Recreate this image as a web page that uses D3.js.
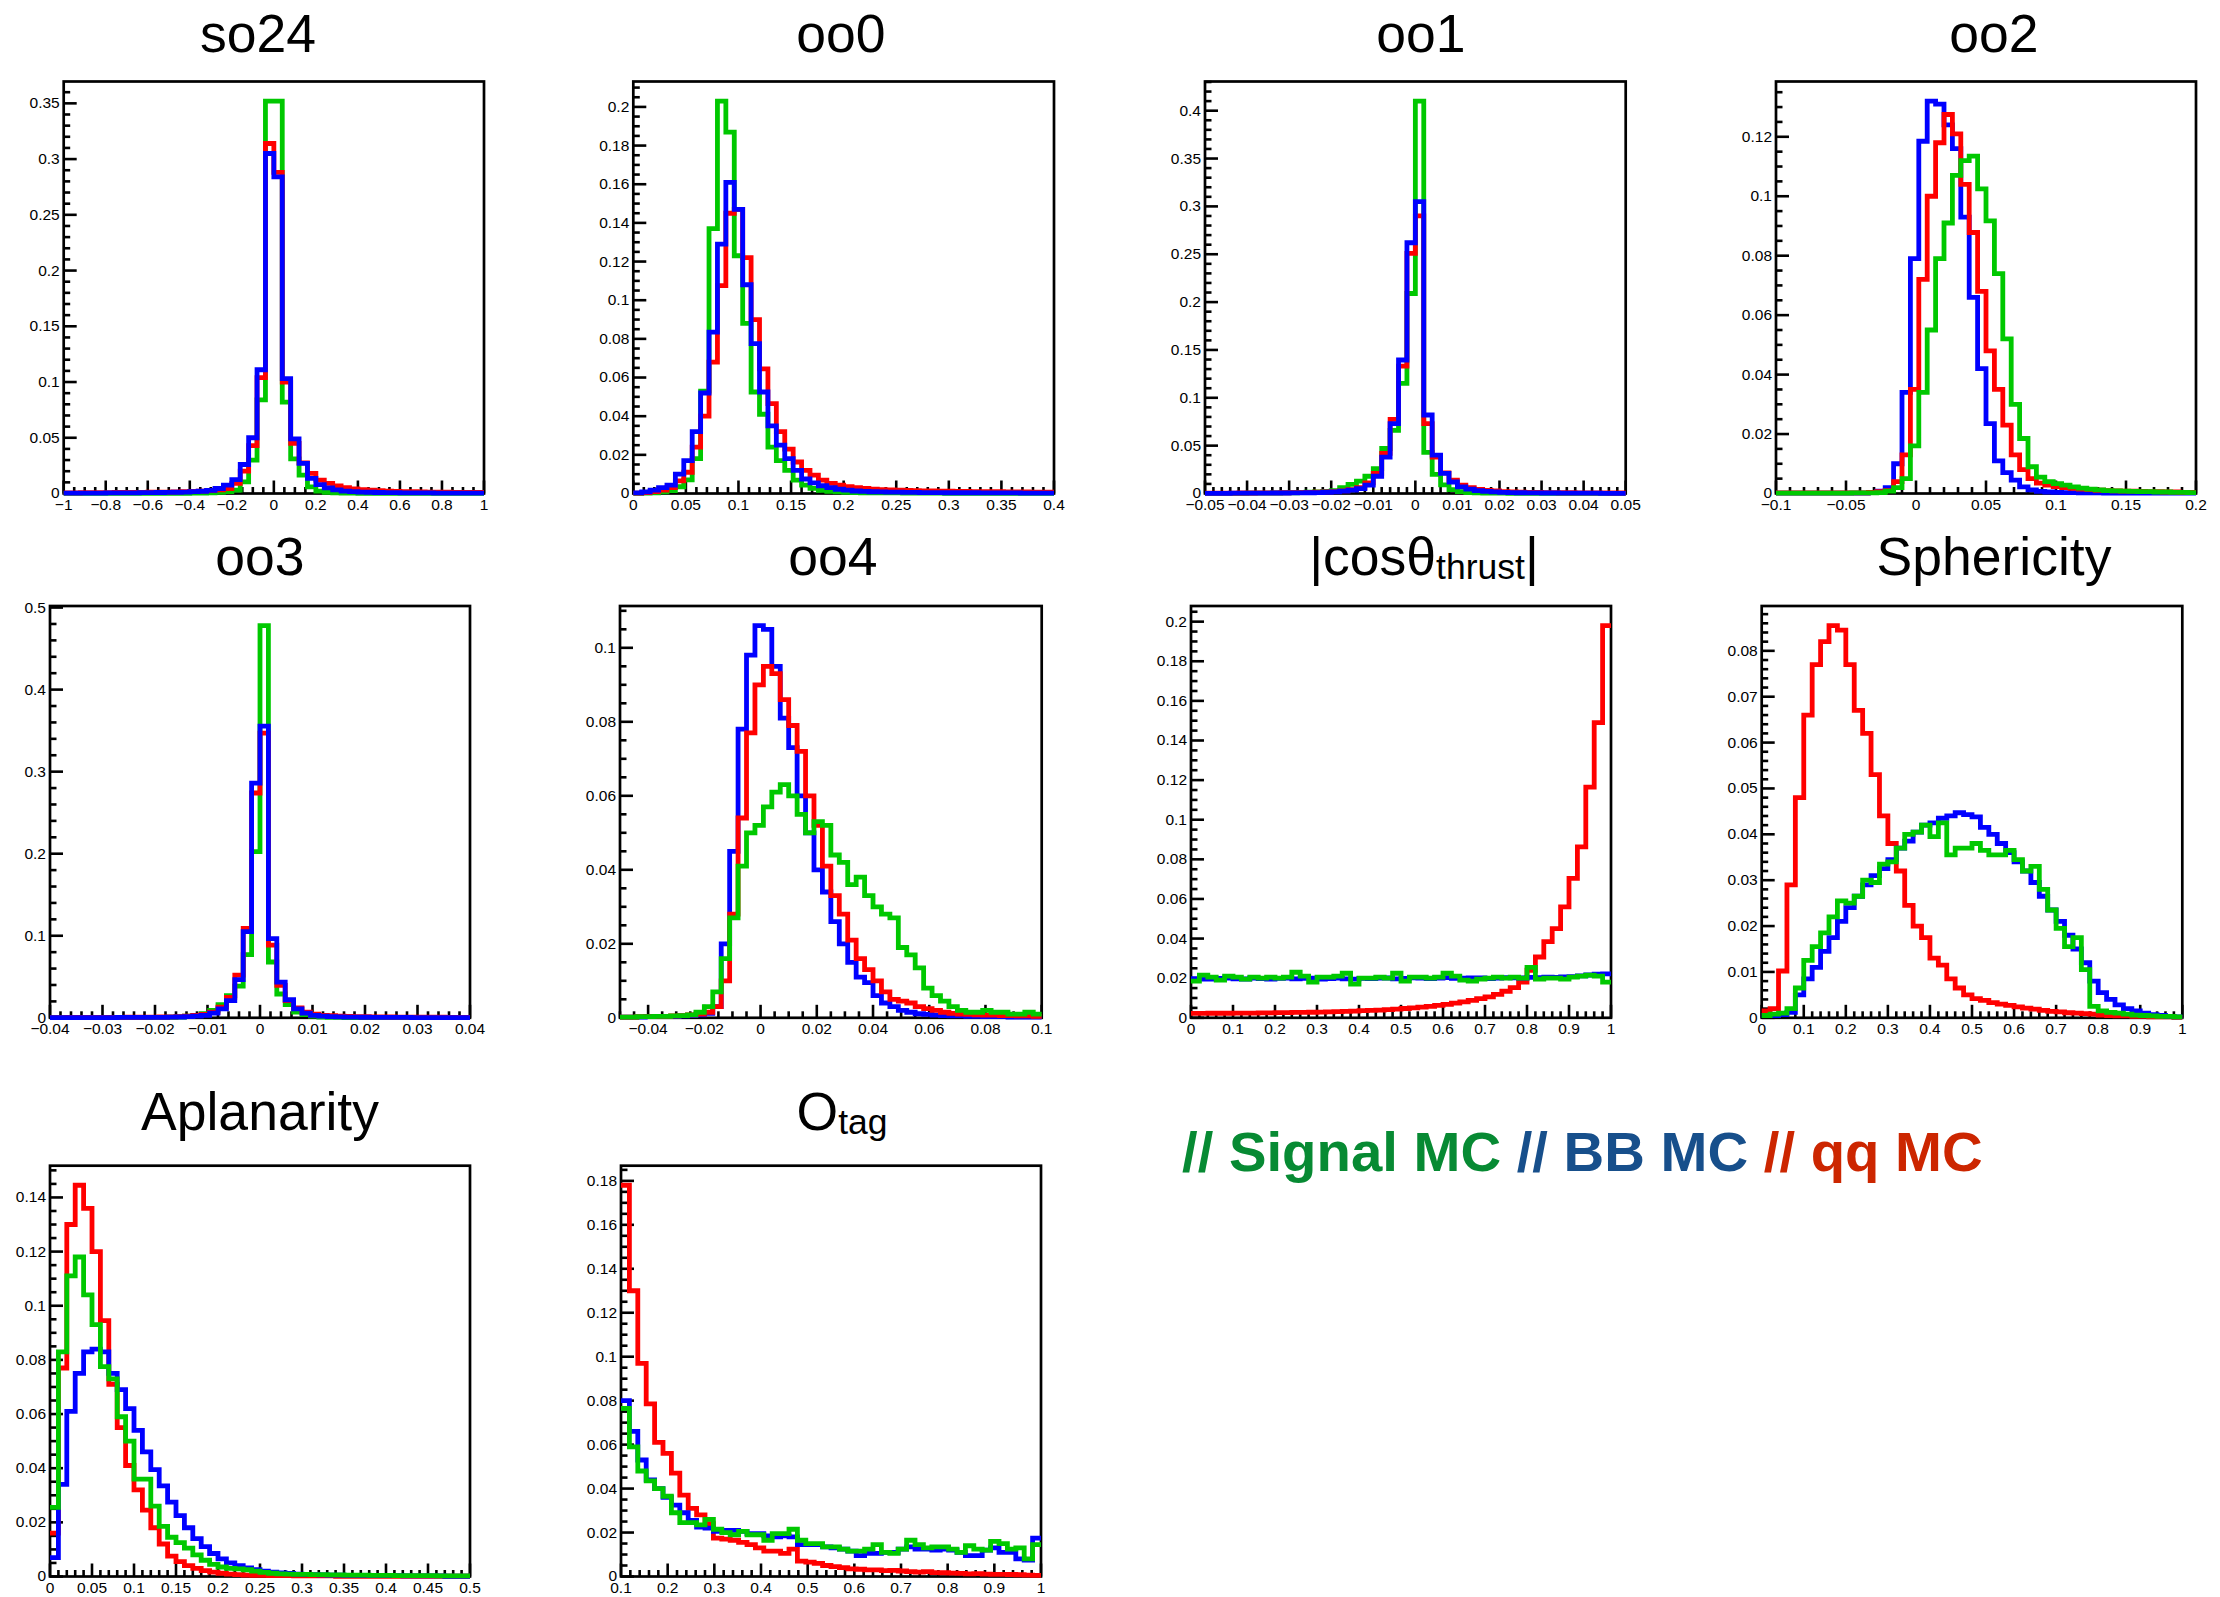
<!DOCTYPE html>
<html>
<head>
<meta charset="utf-8">
<script src="https://cdn.jsdelivr.net/npm/d3@7"></script>
<style>
  html, body { margin: 0; padding: 0; background: #fff; }
  svg { display: block; }
  text { font-family: "Liberation Sans", Arial, Helvetica, sans-serif; }
</style>
</head>
<body>
<svg id="chart" width="2220" height="1597"></svg>
<script>
// ---------- normalised bin contents (50 bins per variable) ----------
const seriesKeys = ["signal", "bb", "qq"];
const seriesLabels = ["Signal MC", "BB MC", "qq MC"];

const so24Range = [-1, 1];
const so24Signal = [0.0001,0.0001,0.0001,0.0001,0.0001,0.0001,0.0001,0.0001,0.0001,0.0001,
  0.0001,0.0001,0.0002,0.0002,0.0002,0.0003,0.0004,0.0006,0.0010,0.0017,
  0.0030,0.0105,0.0300,0.0840,0.3520,0.3520,0.0820,0.0310,0.0165,0.0060,
  0.0022,0.0010,0.0006,0.0004,0.0003,0.0002,0.0002,0.0002,0.0001,0.0001,
  0.0001,0.0001,0.0001,0.0001,0.0001,0.0001,0.0001,0.0001,0.0001,0.0001];
const so24BB = [0.0003,0.0003,0.0004,0.0004,0.0004,0.0005,0.0005,0.0006,0.0006,0.0007,
  0.0008,0.0009,0.0010,0.0011,0.0013,0.0016,0.0020,0.0028,0.0045,0.0075,
  0.0125,0.0260,0.0500,0.1110,0.3050,0.2840,0.1030,0.0490,0.0270,0.0135,
  0.0080,0.0050,0.0032,0.0022,0.0016,0.0013,0.0011,0.0009,0.0008,0.0007,
  0.0006,0.0006,0.0005,0.0005,0.0004,0.0004,0.0004,0.0003,0.0003,0.0003];
const so24QQ = [0.0006,0.0006,0.0007,0.0007,0.0008,0.0008,0.0009,0.0009,0.0010,0.0010,
  0.0011,0.0012,0.0013,0.0014,0.0016,0.0018,0.0021,0.0025,0.0032,0.0045,
  0.0090,0.0200,0.0430,0.1040,0.3140,0.2880,0.1000,0.0450,0.0275,0.0180,
  0.0120,0.0090,0.0068,0.0052,0.0042,0.0035,0.0029,0.0025,0.0022,0.0019,
  0.0017,0.0016,0.0014,0.0013,0.0012,0.0011,0.0010,0.0010,0.0009,0.0009];

const oo0Range = [0, 0.4];
const oo0Signal = [0.0001,0.0002,0.0004,0.0008,0.0015,0.0035,0.0070,0.0180,0.0530,0.1370,
  0.2030,0.1870,0.1230,0.0880,0.0525,0.0410,0.0240,0.0170,0.0120,0.0069,
  0.0043,0.0026,0.0016,0.0011,0.0008,0.0006,0.0005,0.0004,0.0004,0.0003,
  0.0003,0.0003,0.0002,0.0002,0.0002,0.0002,0.0002,0.0001,0.0001,0.0001,
  0.0001,0.0001,0.0001,0.0001,0.0001,0.0001,0.0001,0.0001,0.0001,0.0001];
const oo0BB = [0.0003,0.0008,0.0017,0.0030,0.0043,0.0100,0.0170,0.0320,0.0520,0.0835,
  0.1290,0.1610,0.1470,0.1080,0.0775,0.0525,0.0350,0.0250,0.0180,0.0120,
  0.0075,0.0055,0.0040,0.0030,0.0022,0.0017,0.0013,0.0011,0.0009,0.0008,
  0.0007,0.0007,0.0006,0.0006,0.0005,0.0005,0.0005,0.0004,0.0004,0.0004,
  0.0004,0.0003,0.0003,0.0003,0.0003,0.0003,0.0002,0.0002,0.0002,0.0002];
const oo0QQ = [0.0002,0.0005,0.0010,0.0018,0.0030,0.0065,0.0110,0.0240,0.0400,0.0680,
  0.1075,0.1450,0.1470,0.1220,0.0900,0.0645,0.0465,0.0320,0.0230,0.0163,
  0.0120,0.0095,0.0069,0.0052,0.0043,0.0035,0.0030,0.0026,0.0023,0.0020,
  0.0018,0.0017,0.0016,0.0015,0.0014,0.0013,0.0012,0.0012,0.0011,0.0011,
  0.0010,0.0010,0.0009,0.0009,0.0008,0.0008,0.0008,0.0007,0.0007,0.0007];

const oo1Range = [-0.05, 0.05];
const oo1Signal = [0.0001,0.0001,0.0002,0.0002,0.0002,0.0003,0.0003,0.0004,0.0005,0.0006,
  0.0008,0.0010,0.0013,0.0017,0.0023,0.0030,0.0060,0.0095,0.0130,0.0180,
  0.0260,0.0470,0.0660,0.1150,0.2090,0.4100,0.0430,0.0200,0.0090,0.0040,
  0.0020,0.0010,0.0006,0.0004,0.0003,0.0003,0.0002,0.0002,0.0002,0.0001,
  0.0001,0.0001,0.0001,0.0001,0.0001,0.0001,0.0001,0.0001,0.0001,0.0001];
const oo1BB = [0.0002,0.0002,0.0002,0.0003,0.0003,0.0003,0.0004,0.0004,0.0005,0.0005,
  0.0006,0.0007,0.0008,0.0010,0.0013,0.0018,0.0025,0.0035,0.0050,0.0087,
  0.0180,0.0380,0.0730,0.1395,0.2620,0.3050,0.0820,0.0400,0.0210,0.0120,
  0.0070,0.0045,0.0030,0.0022,0.0016,0.0012,0.0010,0.0008,0.0007,0.0006,
  0.0005,0.0005,0.0004,0.0004,0.0003,0.0003,0.0003,0.0002,0.0002,0.0002];
const oo1QQ = [0.0003,0.0003,0.0004,0.0004,0.0005,0.0005,0.0006,0.0006,0.0007,0.0008,
  0.0009,0.0010,0.0011,0.0013,0.0016,0.0020,0.0028,0.0040,0.0060,0.0110,
  0.0210,0.0420,0.0775,0.1330,0.2510,0.2900,0.0730,0.0380,0.0216,0.0140,
  0.0087,0.0060,0.0043,0.0033,0.0026,0.0020,0.0017,0.0014,0.0012,0.0011,
  0.0010,0.0009,0.0008,0.0008,0.0007,0.0007,0.0006,0.0006,0.0005,0.0005];

const oo2Range = [-0.1, 0.2];
const oo2Signal = [0.0001,0.0001,0.0001,0.0001,0.0001,0.0001,0.0001,0.0001,0.0001,0.0002,
  0.0002,0.0002,0.0003,0.0008,0.0020,0.0050,0.0160,0.0340,0.0550,0.0790,
  0.0910,0.1070,0.1120,0.1135,0.1025,0.0917,0.0740,0.0520,0.0300,0.0185,
  0.0090,0.0055,0.0040,0.0033,0.0028,0.0022,0.0018,0.0015,0.0012,0.0010,
  0.0009,0.0008,0.0007,0.0006,0.0006,0.0005,0.0005,0.0004,0.0004,0.0003];
const oo2BB = [0.0001,0.0001,0.0001,0.0001,0.0001,0.0001,0.0001,0.0001,0.0001,0.0001,
  0.0001,0.0003,0.0008,0.0020,0.0100,0.0340,0.0790,0.1185,0.1320,0.1310,
  0.1240,0.1160,0.0930,0.0660,0.0420,0.0235,0.0110,0.0070,0.0045,0.0022,
  0.0012,0.0007,0.0005,0.0004,0.0003,0.0003,0.0002,0.0002,0.0002,0.0001,
  0.0001,0.0001,0.0001,0.0001,0.0001,0.0001,0.0001,0.0001,0.0001,0.0001];
const oo2QQ = [0.0002,0.0002,0.0002,0.0002,0.0002,0.0002,0.0002,0.0002,0.0002,0.0002,
  0.0002,0.0004,0.0006,0.0010,0.0040,0.0130,0.0350,0.0720,0.1000,0.1180,
  0.1275,0.1210,0.1040,0.0878,0.0680,0.0480,0.0350,0.0230,0.0130,0.0080,
  0.0050,0.0035,0.0028,0.0023,0.0020,0.0017,0.0015,0.0013,0.0011,0.0010,
  0.0009,0.0008,0.0008,0.0007,0.0006,0.0006,0.0005,0.0005,0.0004,0.0004];

const oo3Range = [-0.04, 0.04];
const oo3Signal = [0.0001,0.0001,0.0001,0.0001,0.0001,0.0001,0.0001,0.0002,0.0002,0.0002,
  0.0003,0.0003,0.0004,0.0005,0.0007,0.0010,0.0020,0.0030,0.0050,0.0090,
  0.0160,0.0270,0.0385,0.0770,0.2026,0.4780,0.0680,0.0290,0.0160,0.0070,
  0.0040,0.0020,0.0010,0.0006,0.0004,0.0003,0.0002,0.0002,0.0002,0.0001,
  0.0001,0.0001,0.0001,0.0001,0.0001,0.0001,0.0001,0.0001,0.0001,0.0001];
const oo3BB = [0.0002,0.0002,0.0002,0.0002,0.0003,0.0003,0.0003,0.0003,0.0004,0.0004,
  0.0004,0.0005,0.0005,0.0006,0.0008,0.0010,0.0015,0.0020,0.0030,0.0057,
  0.0110,0.0210,0.0465,0.1050,0.2860,0.3555,0.0966,0.0436,0.0220,0.0110,
  0.0057,0.0030,0.0020,0.0015,0.0011,0.0009,0.0008,0.0007,0.0006,0.0005,
  0.0005,0.0004,0.0004,0.0003,0.0003,0.0003,0.0003,0.0002,0.0002,0.0002];
const oo3QQ = [0.0003,0.0003,0.0004,0.0004,0.0004,0.0005,0.0005,0.0006,0.0006,0.0007,
  0.0007,0.0008,0.0009,0.0010,0.0012,0.0015,0.0020,0.0030,0.0040,0.0070,
  0.0130,0.0250,0.0520,0.1090,0.2740,0.3470,0.0885,0.0395,0.0210,0.0120,
  0.0070,0.0045,0.0030,0.0025,0.0020,0.0017,0.0015,0.0013,0.0012,0.0011,
  0.0010,0.0009,0.0009,0.0008,0.0008,0.0007,0.0007,0.0006,0.0006,0.0005];

const oo4Range = [-0.05, 0.1];
const oo4Signal = [0.0002,0.0002,0.0003,0.0003,0.0004,0.0004,0.0005,0.0006,0.0008,0.0015,
  0.0030,0.0070,0.0160,0.0270,0.0410,0.0500,0.0520,0.0570,0.0610,0.0630,
  0.0600,0.0550,0.0500,0.0530,0.0520,0.0440,0.0420,0.0360,0.0380,0.0330,
  0.0300,0.0280,0.0270,0.0190,0.0170,0.0135,0.0080,0.0060,0.0045,0.0030,
  0.0020,0.0015,0.0015,0.0020,0.0015,0.0015,0.0010,0.0010,0.0015,0.0010];
const oo4BB = [0.0002,0.0002,0.0002,0.0003,0.0003,0.0004,0.0004,0.0005,0.0006,0.0008,
  0.0012,0.0030,0.0200,0.0450,0.0780,0.0980,0.1060,0.1050,0.0950,0.0810,
  0.0730,0.0600,0.0500,0.0400,0.0340,0.0260,0.0200,0.0150,0.0110,0.0095,
  0.0060,0.0040,0.0030,0.0020,0.0015,0.0011,0.0009,0.0007,0.0006,0.0005,
  0.0005,0.0004,0.0004,0.0003,0.0003,0.0003,0.0002,0.0002,0.0002,0.0002];
const oo4QQ = [0.0002,0.0002,0.0003,0.0003,0.0004,0.0004,0.0005,0.0006,0.0008,0.0010,
  0.0015,0.0030,0.0100,0.0280,0.0540,0.0770,0.0900,0.0950,0.0930,0.0860,
  0.0790,0.0720,0.0600,0.0520,0.0410,0.0330,0.0280,0.0210,0.0160,0.0130,
  0.0100,0.0070,0.0050,0.0045,0.0040,0.0030,0.0025,0.0020,0.0015,0.0012,
  0.0010,0.0009,0.0008,0.0007,0.0007,0.0006,0.0006,0.0005,0.0005,0.0004];

const cosRange = [0, 1];
const cosSignal = [0.0185,0.0215,0.0205,0.0190,0.0210,0.0205,0.0195,0.0205,0.0200,0.0205,
  0.0200,0.0205,0.0230,0.0210,0.0180,0.0205,0.0205,0.0210,0.0225,0.0170,
  0.0200,0.0200,0.0205,0.0200,0.0225,0.0185,0.0205,0.0205,0.0200,0.0205,
  0.0225,0.0210,0.0190,0.0185,0.0195,0.0200,0.0205,0.0200,0.0205,0.0200,
  0.0255,0.0195,0.0200,0.0200,0.0195,0.0205,0.0210,0.0215,0.0210,0.0180];
const cosBB = [0.0198,0.0195,0.0196,0.0199,0.0201,0.0197,0.0196,0.0200,0.0198,0.0195,
  0.0199,0.0201,0.0197,0.0199,0.0200,0.0196,0.0198,0.0200,0.0197,0.0195,
  0.0199,0.0198,0.0200,0.0201,0.0197,0.0199,0.0202,0.0200,0.0198,0.0201,
  0.0203,0.0199,0.0200,0.0202,0.0201,0.0198,0.0200,0.0203,0.0202,0.0201,
  0.0204,0.0203,0.0205,0.0204,0.0207,0.0208,0.0212,0.0216,0.0220,0.0222];
const cosQQ = [0.0022,0.0022,0.0023,0.0023,0.0023,0.0024,0.0024,0.0024,0.0025,0.0025,
  0.0026,0.0026,0.0027,0.0027,0.0028,0.0029,0.0030,0.0031,0.0032,0.0034,
  0.0036,0.0037,0.0039,0.0041,0.0044,0.0047,0.0050,0.0054,0.0058,0.0063,
  0.0068,0.0074,0.0080,0.0088,0.0097,0.0106,0.0118,0.0134,0.0152,0.0180,
  0.0240,0.0307,0.0385,0.0450,0.0560,0.0704,0.0863,0.1165,0.1490,0.1980];

const sphRange = [0, 1];
const sphSignal = [0.0005,0.0008,0.0010,0.0020,0.0065,0.0125,0.0155,0.0185,0.0220,0.0255,
  0.0250,0.0265,0.0300,0.0295,0.0335,0.0340,0.0370,0.0400,0.0405,0.0420,
  0.0395,0.0425,0.0355,0.0370,0.0370,0.0380,0.0365,0.0355,0.0355,0.0365,
  0.0345,0.0320,0.0330,0.0280,0.0235,0.0195,0.0155,0.0175,0.0105,0.0025,
  0.0015,0.0012,0.0010,0.0008,0.0006,0.0005,0.0004,0.0003,0.0003,0.0002];
const sphBB = [0.0005,0.0005,0.0007,0.0012,0.0050,0.0085,0.0110,0.0145,0.0175,0.0210,
  0.0240,0.0265,0.0290,0.0310,0.0325,0.0345,0.0370,0.0385,0.0405,0.0420,
  0.0425,0.0435,0.0440,0.0447,0.0443,0.0438,0.0415,0.0400,0.0380,0.0360,
  0.0340,0.0320,0.0295,0.0265,0.0235,0.0210,0.0180,0.0150,0.0120,0.0080,
  0.0055,0.0040,0.0028,0.0020,0.0015,0.0010,0.0007,0.0005,0.0003,0.0002];
const sphQQ = [0.0015,0.0020,0.0102,0.0290,0.0480,0.0660,0.0770,0.0820,0.0855,0.0845,
  0.0770,0.0670,0.0620,0.0530,0.0440,0.0380,0.0320,0.0245,0.0200,0.0175,
  0.0130,0.0115,0.0085,0.0065,0.0050,0.0042,0.0038,0.0033,0.0030,0.0027,
  0.0024,0.0021,0.0019,0.0016,0.0014,0.0013,0.0011,0.0010,0.0009,0.0008,
  0.0006,0.0005,0.0004,0.0004,0.0003,0.0003,0.0002,0.0002,0.0002,0.0001];

const aplRange = [0, 0.5];
const aplSignal = [0.0255,0.0830,0.1110,0.1180,0.1040,0.0930,0.0775,0.0730,0.0590,0.0500,
  0.0360,0.0360,0.0260,0.0185,0.0145,0.0125,0.0105,0.0080,0.0060,0.0045,
  0.0035,0.0030,0.0028,0.0025,0.0020,0.0015,0.0012,0.0010,0.0009,0.0008,
  0.0008,0.0007,0.0007,0.0006,0.0006,0.0005,0.0005,0.0005,0.0004,0.0004,
  0.0004,0.0003,0.0003,0.0003,0.0003,0.0003,0.0002,0.0002,0.0002,0.0002];
const aplBB = [0.0070,0.0340,0.0610,0.0750,0.0830,0.0840,0.0830,0.0750,0.0690,0.0620,
  0.0540,0.0460,0.0395,0.0335,0.0275,0.0225,0.0180,0.0140,0.0110,0.0085,
  0.0065,0.0050,0.0040,0.0032,0.0025,0.0020,0.0016,0.0013,0.0011,0.0009,
  0.0008,0.0007,0.0006,0.0005,0.0005,0.0004,0.0004,0.0004,0.0003,0.0003,
  0.0003,0.0003,0.0002,0.0002,0.0002,0.0002,0.0002,0.0001,0.0001,0.0001];
const aplQQ = [0.0160,0.0770,0.1300,0.1445,0.1360,0.1200,0.0945,0.0710,0.0550,0.0410,
  0.0320,0.0245,0.0180,0.0120,0.0075,0.0055,0.0040,0.0030,0.0022,0.0016,
  0.0012,0.0009,0.0007,0.0005,0.0004,0.0004,0.0003,0.0003,0.0003,0.0002,
  0.0002,0.0002,0.0002,0.0002,0.0001,0.0001,0.0001,0.0001,0.0001,0.0001,
  0.0001,0.0001,0.0001,0.0001,0.0001,0.0001,0.0001,0.0001,0.0001,0.0001];

const otagRange = [0.1, 1];
const otagSignal = [0.0765,0.0590,0.0480,0.0435,0.0400,0.0365,0.0290,0.0245,0.0245,0.0235,
  0.0260,0.0215,0.0200,0.0190,0.0205,0.0190,0.0190,0.0165,0.0195,0.0195,
  0.0215,0.0165,0.0150,0.0150,0.0135,0.0135,0.0125,0.0115,0.0115,0.0125,
  0.0145,0.0110,0.0105,0.0125,0.0165,0.0145,0.0130,0.0135,0.0135,0.0125,
  0.0110,0.0140,0.0125,0.0120,0.0160,0.0150,0.0125,0.0130,0.0080,0.0145];
const otagBB = [0.0800,0.0660,0.0530,0.0440,0.0400,0.0360,0.0325,0.0290,0.0255,0.0225,
  0.0220,0.0205,0.0210,0.0210,0.0205,0.0195,0.0195,0.0185,0.0180,0.0185,
  0.0180,0.0145,0.0145,0.0145,0.0135,0.0130,0.0125,0.0115,0.0095,0.0105,
  0.0105,0.0110,0.0110,0.0125,0.0135,0.0125,0.0125,0.0120,0.0125,0.0120,
  0.0110,0.0095,0.0095,0.0120,0.0130,0.0110,0.0110,0.0080,0.0075,0.0175];
const otagQQ = [0.1780,0.1300,0.0970,0.0785,0.0610,0.0560,0.0470,0.0370,0.0310,0.0280,
  0.0240,0.0175,0.0170,0.0165,0.0155,0.0145,0.0130,0.0115,0.0115,0.0105,
  0.0125,0.0070,0.0065,0.0060,0.0050,0.0045,0.0040,0.0035,0.0033,0.0030,
  0.0030,0.0027,0.0028,0.0025,0.0022,0.0020,0.0022,0.0018,0.0017,0.0015,
  0.0014,0.0012,0.0013,0.0011,0.0010,0.0010,0.0009,0.0008,0.0006,0.0005];

// ---------- styling and layout ----------
const lineColors = { signal: "#00c800", bb: "#0000ff", qq: "#ff0000" };
const legendColors = { signal: "#078a33", bb: "#174f8b", qq: "#cc2600" };

const panels = [
  { title: { main: "so24" }, range: so24Range, data: { signal: so24Signal, bb: so24BB, qq: so24QQ },
    order: ["signal", "qq", "bb"], xStep: 0.2, xDiv: 4, yStep: 0.05, yDiv: 5,
    frame: [63.7, 81.5, 484, 493.5], titleAt: [258, 52] },
  { title: { main: "oo0" }, range: oo0Range, data: { signal: oo0Signal, bb: oo0BB, qq: oo0QQ },
    order: ["signal", "qq", "bb"], xStep: 0.05, xDiv: 5, yStep: 0.02, yDiv: 4,
    frame: [633.3, 81.5, 1054, 493.5], titleAt: [841, 52] },
  { title: { main: "oo1" }, range: oo1Range, data: { signal: oo1Signal, bb: oo1BB, qq: oo1QQ },
    order: ["signal", "qq", "bb"], xStep: 0.01, xDiv: 5, yStep: 0.05, yDiv: 5,
    frame: [1205, 81.5, 1625.7, 493.5], titleAt: [1421, 52] },
  { title: { main: "oo2" }, range: oo2Range, data: { signal: oo2Signal, bb: oo2BB, qq: oo2QQ },
    order: ["bb", "qq", "signal"], xStep: 0.05, xDiv: 5, yStep: 0.02, yDiv: 4,
    frame: [1776, 81.5, 2196, 493.5], titleAt: [1994, 52] },
  { title: { main: "oo3" }, range: oo3Range, data: { signal: oo3Signal, bb: oo3BB, qq: oo3QQ },
    order: ["signal", "qq", "bb"], xStep: 0.01, xDiv: 5, yStep: 0.1, yDiv: 5,
    frame: [50, 606, 470, 1017.8], titleAt: [260, 575] },
  { title: { main: "oo4" }, range: oo4Range, data: { signal: oo4Signal, bb: oo4BB, qq: oo4QQ },
    order: ["bb", "qq", "signal"], xStep: 0.02, xDiv: 4, yStep: 0.02, yDiv: 4,
    frame: [620, 606, 1041.7, 1017.8], titleAt: [833, 575] },
  { title: { main: "|cosθ", sub: "thrust", tail: "|" }, range: cosRange, data: { signal: cosSignal, bb: cosBB, qq: cosQQ },
    order: ["qq", "bb", "signal"], xStep: 0.1, xDiv: 5, yStep: 0.02, yDiv: 4,
    frame: [1191, 606, 1611, 1017.8], titleAt: [1424, 575] },
  { title: { main: "Sphericity" }, range: sphRange, data: { signal: sphSignal, bb: sphBB, qq: sphQQ },
    order: ["qq", "bb", "signal"], xStep: 0.1, xDiv: 5, yStep: 0.01, yDiv: 5,
    frame: [1761.7, 606, 2182.3, 1017.8], titleAt: [1994, 575] },
  { title: { main: "Aplanarity" }, range: aplRange, data: { signal: aplSignal, bb: aplBB, qq: aplQQ },
    order: ["qq", "bb", "signal"], xStep: 0.05, xDiv: 5, yStep: 0.02, yDiv: 4,
    frame: [50, 1165.7, 470, 1576.5], titleAt: [260, 1130] },
  { title: { main: "O", sub: "tag" }, range: otagRange, data: { signal: otagSignal, bb: otagBB, qq: otagQQ },
    order: ["qq", "bb", "signal"], xStep: 0.1, xDiv: 5, yStep: 0.02, yDiv: 4,
    frame: [621, 1165.7, 1041, 1576.5], titleAt: [842, 1130] }
];

// ---------- drawing ----------
const svg = d3.select("#chart");
svg.append("rect").attr("width", 2220).attr("height", 1597).attr("fill", "#fff");

const fmt = d3.format("~g");
function stepTicks(lo, hi, step) {
  const a = Math.ceil(lo / step - 1e-6), b = Math.floor(hi / step + 1e-6);
  return d3.range(a, b + 1).map(k => +(k * step).toFixed(8));
}
function minorTicks(lo, hi, step, div, major) {
  return stepTicks(lo, hi, step / div).filter(v => !major.some(m => Math.abs(m - v) < 1e-9));
}

function styleAxis(ga) {
  ga.select(".domain").remove();
  ga.attr("font-size", 15.5).attr("font-family", "'Liberation Sans', Arial, Helvetica, sans-serif");
  ga.selectAll("line").attr("stroke", "#000").attr("stroke-width", 2.6);
  ga.selectAll("text").attr("fill", "#000");
}

panels.forEach(p => {
  const [fx0, fy0, fx1, fy1] = p.frame;
  const g = svg.append("g");
  const x = d3.scaleLinear().domain(p.range).range([fx0, fx1]);
  const yMax = 1.05 * d3.max(seriesKeys.map(k => d3.max(p.data[k])));
  const y = d3.scaleLinear().domain([0, yMax]).range([fy1, fy0]);

  // frame box
  g.append("rect")
    .attr("x", fx0).attr("y", fy0).attr("width", fx1 - fx0).attr("height", fy1 - fy0)
    .attr("fill", "none").attr("stroke", "#000").attr("stroke-width", 2.7);

  // x axis: major + minor ticks pointing into the frame
  const xMajor = stepTicks(p.range[0], p.range[1], p.xStep);
  const xMinor = minorTicks(p.range[0], p.range[1], p.xStep, p.xDiv, xMajor);
  const gx = g.append("g").attr("transform", `translate(0,${fy1})`)
    .call(d3.axisBottom(x).tickValues(xMajor).tickSize(-13).tickPadding(5).tickFormat(fmt).offset(0));
  styleAxis(gx);
  const gxm = g.append("g").attr("transform", `translate(0,${fy1})`)
    .call(d3.axisBottom(x).tickValues(xMinor).tickSize(-6.5).tickFormat("").offset(0));
  styleAxis(gxm);

  // y axis
  const yMajor = stepTicks(0, yMax, p.yStep);
  const yMinor = minorTicks(0, yMax, p.yStep, p.yDiv, yMajor);
  const gy = g.append("g").attr("transform", `translate(${fx0},0)`)
    .call(d3.axisLeft(y).tickValues(yMajor).tickSize(-13).tickPadding(4).tickFormat(fmt).offset(0));
  styleAxis(gy);
  const gym = g.append("g").attr("transform", `translate(${fx0},0)`)
    .call(d3.axisLeft(y).tickValues(yMinor).tickSize(-6.5).tickFormat("").offset(0));
  styleAxis(gym);

  // histogram outlines (step lines)
  const line = d3.line().x(d => x(d[0])).y(d => y(d[1])).curve(d3.curveStepAfter);
  p.order.forEach(key => {
    const vals = p.data[key];
    const bw = (p.range[1] - p.range[0]) / vals.length;
    const pts = vals.map((v, i) => [p.range[0] + i * bw, v]);
    pts.push([p.range[1], vals[vals.length - 1]]);
    g.append("path")
      .attr("d", line(pts))
      .attr("fill", "none")
      .attr("stroke", lineColors[key])
      .attr("stroke-width", 4.8)
      .attr("stroke-linejoin", "miter");
  });

  // panel title
  const t = svg.append("text")
    .attr("x", p.titleAt[0]).attr("y", p.titleAt[1])
    .attr("text-anchor", "middle").attr("font-size", 53.5).attr("fill", "#000");
  t.append("tspan").text(p.title.main);
  if (p.title.sub) {
    t.append("tspan").attr("font-size", 35.5).attr("dy", 4).text(p.title.sub);
    if (p.title.tail) t.append("tspan").attr("dy", -4).text(p.title.tail);
  }
});

// legend line
const legend = svg.append("text")
  .attr("x", 1182).attr("y", 1171)
  .attr("font-size", 56.3).attr("font-weight", "bold")
  .style("white-space", "pre");
seriesKeys.forEach((k, i) => {
  legend.append("tspan")
    .attr("fill", legendColors[k])
    .text((i ? " " : "") + "// " + seriesLabels[i]);
});
</script>
</body>
</html>
